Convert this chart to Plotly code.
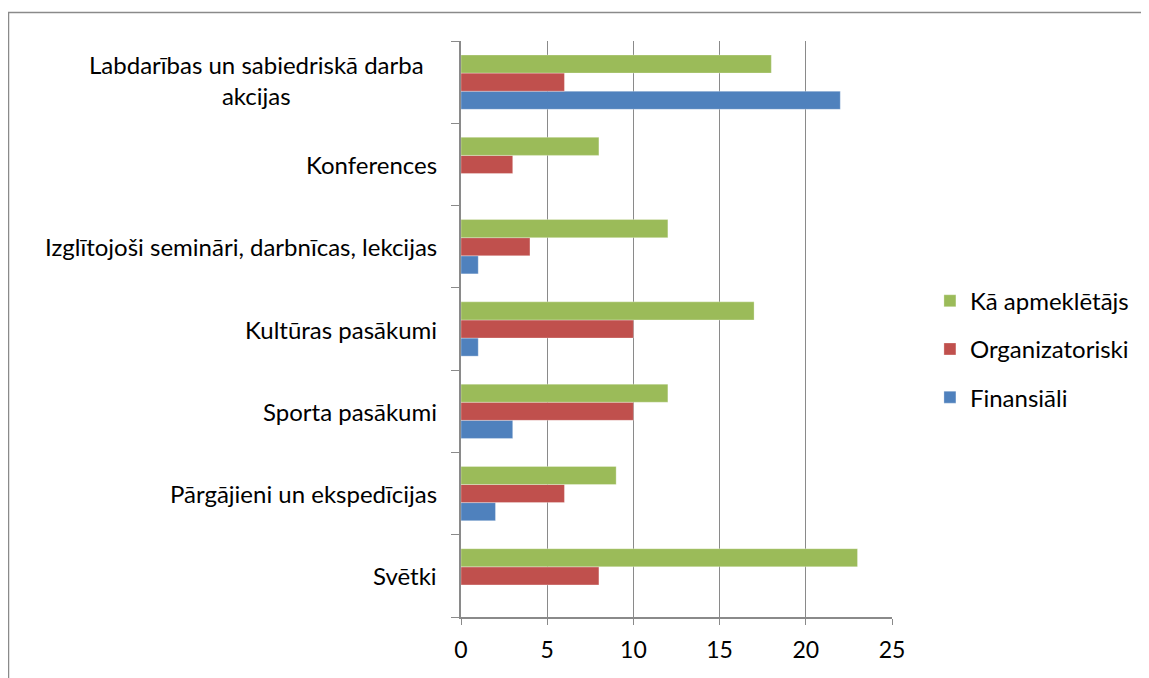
import plotly.graph_objects as go

categories = ["Svētki", "Pārgājieni un ekspedīcijas", "Sporta pasākumi", "Kultūras pasākumi",
              "Izglītojoši semināri, darbnīcas, lekcijas", "Konferences",
              "Labdarības un sabiedriskā darba akcijas"]
labels = ["Svētki", "Pārgājieni un ekspedīcijas", "Sporta pasākumi", "Kultūras pasākumi",
          "Izglītojoši semināri, darbnīcas, lekcijas", "Konferences",
          "Labdarības un sabiedriskā darba<br>akcijas"]
finansiali = [0, 2, 3, 1, 1, 0, 22]
organizatoriski = [8, 6, 10, 10, 4, 3, 6]
apmekletajs = [23, 9, 12, 17, 12, 8, 18]
x_ticks = [0, 5, 10, 15, 20, 25]

FONT = "Lato"
fig = go.Figure()
series = [("Finansiāli", finansiali, "#4F81BD", 3),
          ("Organizatoriski", organizatoriski, "#C0504D", 2),
          ("Kā apmeklētājs", apmekletajs, "#9BBB59", 1)]
for name, vals, col, rank in series:
    fig.add_trace(go.Bar(y=categories, x=vals, name=name, orientation="h",
                         marker=dict(color=col, line=dict(color="rgba(255,255,255,0.6)", width=0.5)),
                         legendgroup=name, legendrank=rank))

for cat, lab in zip(categories, labels):
    shift = -35 if "<br>" in lab else -22
    fig.add_annotation(x=0, xref="paper", y=cat, yref="y", text=lab, showarrow=False,
                       xanchor="right", xshift=shift, yshift=2 if "<br>" in lab else 0, align="center",
                       font=dict(family=FONT, size=24, color="black"))

fig.add_shape(type="rect", xref="paper", yref="paper", x0=-1.0499, x1=1.7, y0=-0.2, y1=1.0495,
              line=dict(color="#8a8a8a", width=1.5), layer="below")

fig.update_layout(
    width=1141, height=670, barmode="group", bargap=0.34, bargroupgap=0,
    margin=dict(l=453, r=257, t=33, b=61, autoexpand=False),
    plot_bgcolor="white", paper_bgcolor="white",
    font=dict(family=FONT, size=24, color="black"),
    legend=dict(traceorder="grouped", tracegroupgap=14, x=1.088, xanchor="left",
                y=0.465, yanchor="middle", font=dict(family=FONT, size=24)),
    xaxis=dict(range=[0, 25], tickvals=x_ticks, showgrid=True, gridcolor="#8a8a8a", gridwidth=1,
               showline=True, linecolor="#8a8a8a", linewidth=1.5, ticks="outside", ticklen=6,
               tickcolor="#8a8a8a", zeroline=False, tickfont=dict(size=23), ticklabelstandoff=6),
    yaxis=dict(type="category", categoryorder="array", categoryarray=categories, range=[-0.5, 6.5],
               showticklabels=False, showline=True, linecolor="#8a8a8a", linewidth=1.5,
               ticks="outside", ticklen=8, tickcolor="#8a8a8a", tickson="boundaries", showgrid=False),
)
fig.write_html("out.html")
